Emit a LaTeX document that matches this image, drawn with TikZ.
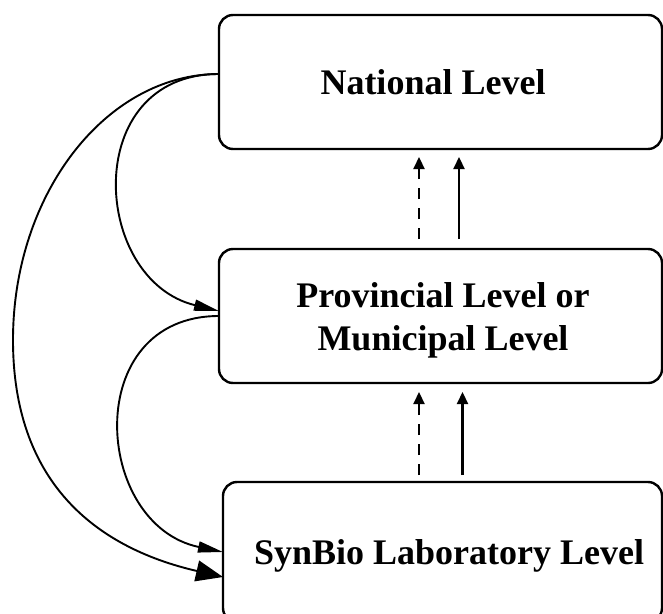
\documentclass[tikz,border=0pt]{standalone}
\usepackage{fontspec}
\setmainfont{Liberation Serif}
\usetikzlibrary{arrows.meta}
\begin{document}
\begin{tikzpicture}[x=1pt,y=-1pt,
  levelbox/.style={draw, line width=2.4pt, rounded corners=14pt, inner sep=0pt, outer sep=0pt},
  leveltext/.style={inner sep=0pt, font=\bfseries\fontsize{36}{43}\selectfont, align=center},
  uparrow/.style={line width=2.2pt, -{Triangle[length=12pt,width=11pt]}},
  dasharrow/.style={uparrow, dash pattern=on 11pt off 9pt},
  curvearrow/.style={line width=1.9pt, -{Triangle[length=25pt,width=11pt]}},
  bigcurvearrow/.style={line width=1.9pt, -{Triangle[length=27pt,width=21pt]}}]
\useasboundingbox (0,0) rectangle (663,613);
% boxes
\node[levelbox, minimum width=443pt, minimum height=134pt] (nat) at (440.5,82) {};
\node[levelbox, minimum width=443pt, minimum height=134pt] (prov) at (440.5,316) {};
\node[levelbox, minimum width=439pt, minimum height=140pt] (lab) at (442.5,552) {};
% texts
\node[leveltext, anchor=base] (natt) at (433,94) {National Level};
\node[leveltext, anchor=center] (provt) at (443,320) {Provincial Level or\\Municipal Level};
\node[leveltext, anchor=base] (labt) at (449,564) {SynBio Laboratory Level};
% vertical arrows
\draw[dasharrow] ([xshift=-21.5pt,yshift=10pt]prov.north) -- ([xshift=-21.5pt,yshift=-8pt]nat.south);
\draw[uparrow] ([xshift=18.5pt,yshift=10pt]prov.north) -- ([xshift=18.5pt,yshift=-8pt]nat.south);
\draw[dasharrow] ([xshift=-23.5pt,yshift=7pt]lab.north) -- ([xshift=-21.5pt,yshift=-9pt]prov.south);
\draw[uparrow] ([xshift=20pt,yshift=7pt]lab.north) -- ([xshift=22pt,yshift=-9pt]prov.south);
% curved arrows
\coordinate (outer) at (13,340);
\draw[curvearrow] ([yshift=8pt]nat.west) .. controls +(-139,0) and +(-128,-31) .. ([yshift=5pt]prov.west);
\draw[curvearrow] (prov.west) .. controls +(-139,0) and +(-130,-27) .. (lab.west);
\draw[bigcurvearrow] ([yshift=8pt]nat.west) .. controls +(-113,0) and +(0,-146) .. (outer)
  .. controls +(0,140) and +(-130,-30) .. ([yshift=-25pt]lab.west);
\end{tikzpicture}
\end{document}
